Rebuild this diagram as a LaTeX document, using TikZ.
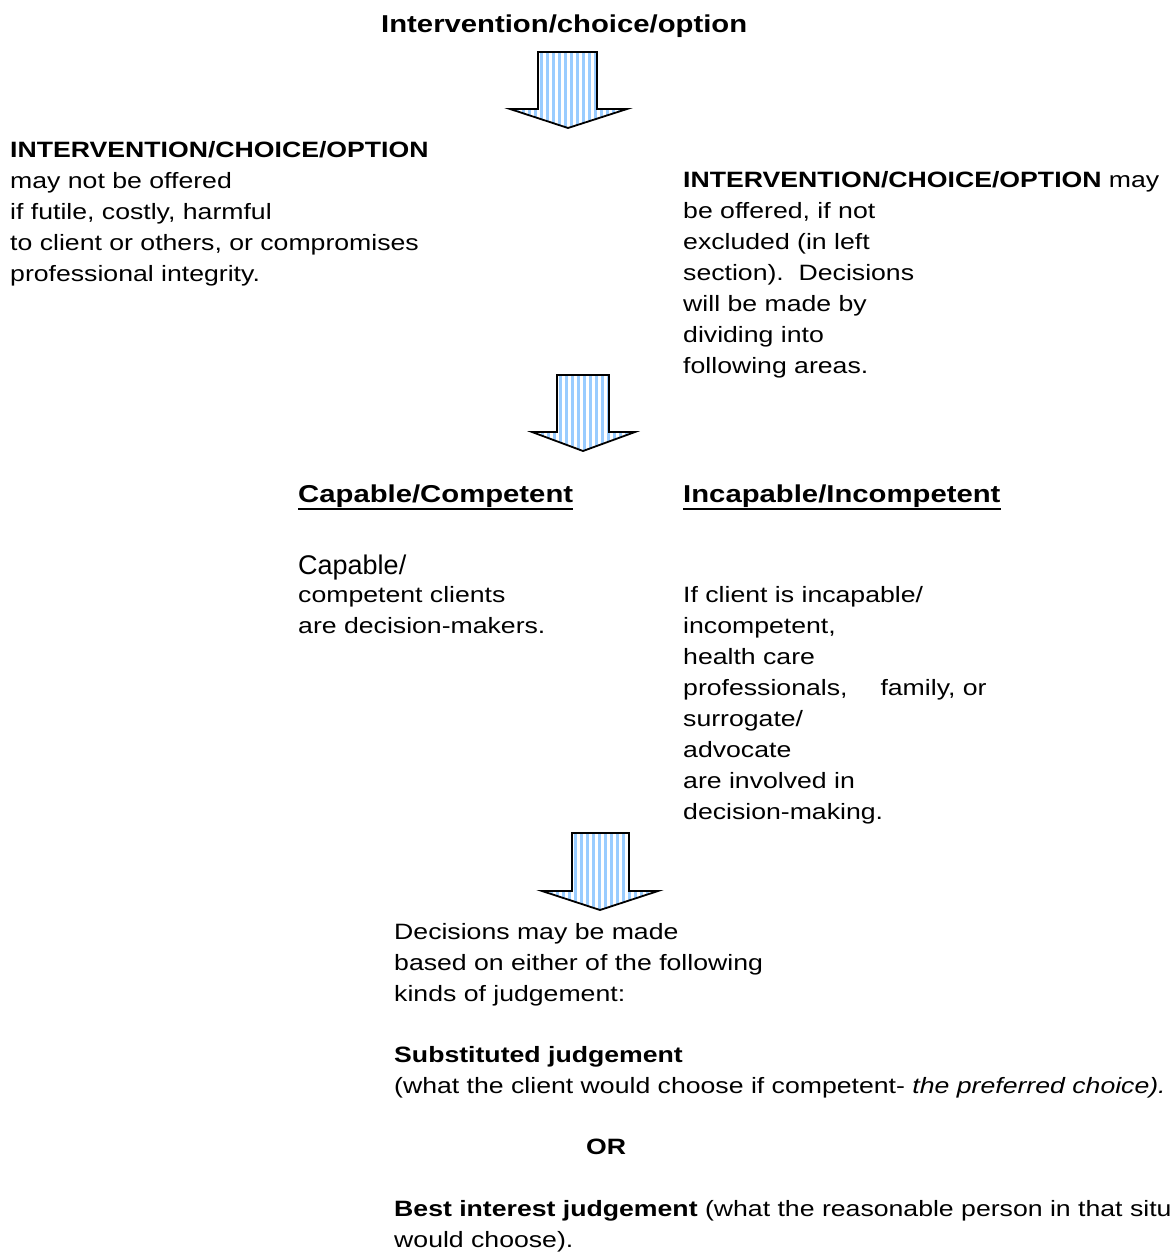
\documentclass[tikz,border=0pt]{standalone}
\usepackage{fontspec}
\setmainfont{Liberation Sans}[FakeStretch=1.2]
\newfontfamily\plainsans{Liberation Sans}
\definecolor{stripeblue}{HTML}{99CCFF}
\tikzset{
  txt/.style={anchor=base west, inner sep=0pt, align=left, font={\fontsize{22.2}{31}\selectfont}},
  headtxt/.style={anchor=base west, inner sep=0pt, font={\fontsize{24.4}{31}\selectfont\bfseries}},
  uline/.style={line width=2.6pt},
  arrowline/.style={draw=black, line width=1.8pt, line join=miter},
  stripe/.style={fill=stripeblue}
}
\newcommand\mybigarrow[8]{%
  \begin{scope}
    \clip (#1,#3) -- (#2,#3) -- (#2,#4) -- (#6,#4) -- (#7,#8) -- (#5,#4) -- (#1,#4) -- cycle;
    \foreach \s in {-36,-30,...,132} {\fill[stripe] ({#1+\s+2},#3) rectangle ++(3,{#8-#3});}
  \end{scope}
  \draw[arrowline] (#1,#3) -- (#2,#3) -- (#2,#4) -- (#6,#4) -- (#7,#8) -- (#5,#4) -- (#1,#4) -- cycle;
}
\begin{document}
\begin{tikzpicture}[x=1pt,y=-1pt]
\path[use as bounding box] (0,0) rectangle (1172,1253);
\fill[white] (0,0) rectangle (1172,1253);
\clip (0,0) rectangle (1172,1253);

% title
\node[headtxt] (title) at (381,32) {Intervention/choice/option};

% arrow 1
\mybigarrow{538}{597}{52}{109}{510}{627}{568}{128}

% left block (anchored at the baseline of its last line)
\node[txt] (left) at (10,281) {\textbf{INTERVENTION/CHOICE/OPTION}\\may not be offered\\if futile, costly, harmful\\to client or others, or compromises\\professional integrity.};

% right block
\node[txt] (right) at (683,373) {\textbf{INTERVENTION/CHOICE/OPTION} may\\be offered, if not\\excluded (in left\\section).\ \ Decisions\\will be made by\\dividing into\\following areas.};

% arrow 2
\mybigarrow{557}{609}{375}{432}{532}{635}{583}{451}

% headings
\node[headtxt] (hcap) at (298,502) {Capable/Competent};
\draw[uline] ([yshift=-7pt]hcap.base west) -- ([yshift=-7pt]hcap.base east);
\node[headtxt] (hinc) at (683,502) {Incapable/Incompetent};
\draw[uline] ([yshift=-7pt]hinc.base west) -- ([yshift=-7pt]hinc.base east);

% capable text
\node[anchor=base west, inner sep=0pt, font={\plainsans\fontsize{27}{31}\selectfont}] (capw) at (298,574) {Capable/};
\node[txt] (capt) at (298,633) {competent clients\\are decision-makers.};

% incapable text
\node[txt] (inct) at (683,819) {If client is incapable/\\incompetent,\\health care\\professionals,\hspace{33pt}family, or\\surrogate/\\advocate\\are involved in\\decision-making.};

% arrow 3
\mybigarrow{572}{629}{833}{891}{542}{658}{600}{910}

% bottom block
\node[txt] (dec) at (394,1001) {Decisions may be made\\based on either of the following\\kinds of judgement:};
\node[txt] (subst) at (394,1093) {\textbf{Substituted judgement}\\(what the client would choose if competent- \textit{the preferred choice).}};
\node[txt] (or) at (586,1154) {\textbf{OR}};
\node[txt] (best) at (394,1247) {\textbf{Best interest judgement} (what the reasonable person in that situation\\would choose).};
\end{tikzpicture}
\end{document}
